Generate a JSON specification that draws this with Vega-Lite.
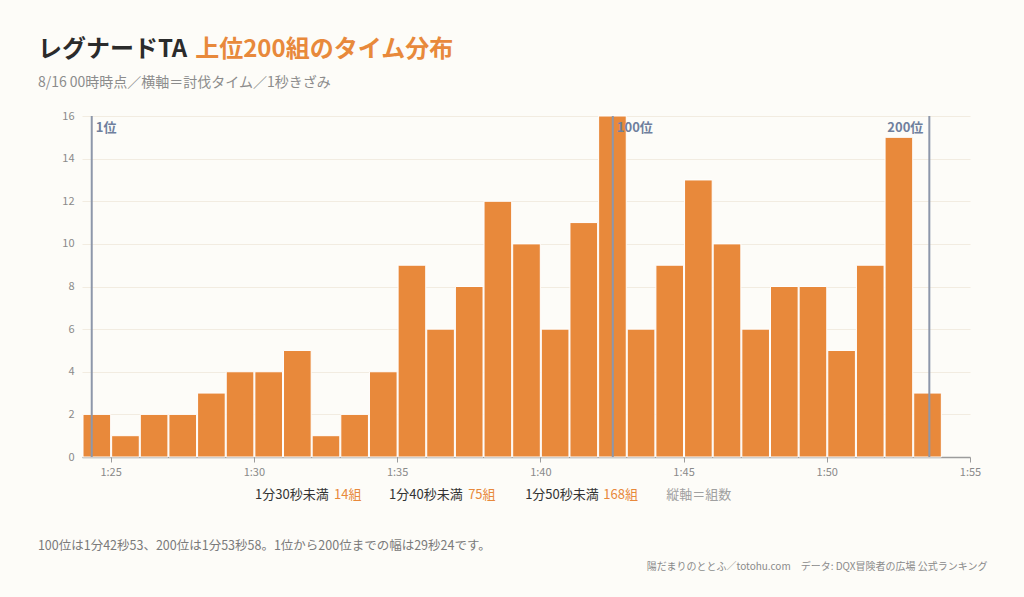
{
  "$schema": "https://vega.github.io/schema/vega-lite/v6.json",
  "width": 888,
  "height": 341,
  "autosize": {"type": "none"},
  "padding": {"left": 82, "top": 116, "right": 54, "bottom": 140},
  "background": "#fdfcf8",
  "config": {
    "view": {"stroke": null},
    "font": "Noto Sans CJK JP",
    "text": {"font": "Noto Sans CJK JP", "baseline": "middle", "align": "left"}
  },
  "layer": [
    {
      "data": {
        "values": [
          {"start": 84, "end": 85, "count": 2},
          {"start": 85, "end": 86, "count": 1},
          {"start": 86, "end": 87, "count": 2},
          {"start": 87, "end": 88, "count": 2},
          {"start": 88, "end": 89, "count": 3},
          {"start": 89, "end": 90, "count": 4},
          {"start": 90, "end": 91, "count": 4},
          {"start": 91, "end": 92, "count": 5},
          {"start": 92, "end": 93, "count": 1},
          {"start": 93, "end": 94, "count": 2},
          {"start": 94, "end": 95, "count": 4},
          {"start": 95, "end": 96, "count": 9},
          {"start": 96, "end": 97, "count": 6},
          {"start": 97, "end": 98, "count": 8},
          {"start": 98, "end": 99, "count": 12},
          {"start": 99, "end": 100, "count": 10},
          {"start": 100, "end": 101, "count": 6},
          {"start": 101, "end": 102, "count": 11},
          {"start": 102, "end": 103, "count": 16},
          {"start": 103, "end": 104, "count": 6},
          {"start": 104, "end": 105, "count": 9},
          {"start": 105, "end": 106, "count": 13},
          {"start": 106, "end": 107, "count": 10},
          {"start": 107, "end": 108, "count": 6},
          {"start": 108, "end": 109, "count": 8},
          {"start": 109, "end": 110, "count": 8},
          {"start": 110, "end": 111, "count": 5},
          {"start": 111, "end": 112, "count": 9},
          {"start": 112, "end": 113, "count": 15},
          {"start": 113, "end": 114, "count": 3}
        ]
      },
      "mark": {"type": "bar", "fill": "#e8893b", "stroke": "#ffffff", "strokeWidth": 1},
      "encoding": {
        "x": {
          "field": "start",
          "type": "quantitative",
          "bin": {"binned": true, "step": 1},
          "scale": {"domain": [84, 115]},
          "axis": {
            "title": null,
            "values": [85, 90, 95, 100, 105, 110, 115],
            "labelExpr": "floor(datum.value / 60) + ':' + (datum.value % 60 < 10 ? '0' : '') + (datum.value % 60)",
            "labelFlush": false,
            "grid": false,
            "domainColor": "#9c9c9c",
            "domainWidth": 1.5,
            "tickColor": "#9c9c9c",
            "tickSize": 5,
            "labelColor": "#8a8a8a",
            "labelFontSize": 11,
            "labelPadding": 4
          }
        },
        "x2": {"field": "end"},
        "y": {
          "field": "count",
          "type": "quantitative",
          "scale": {"domain": [0, 16]},
          "axis": {
            "title": null,
            "values": [0, 2, 4, 6, 8, 10, 12, 14, 16],
            "grid": true,
            "gridColor": "#f2ece1",
            "domain": false,
            "ticks": false,
            "labelColor": "#8a8a8a",
            "labelFontSize": 11,
            "labelPadding": 8
          }
        }
      }
    },
    {
      "data": {
        "name": "ranks",
        "values": [
          {"rank": "1位", "time": 84.34},
          {"rank": "100位", "time": 102.53},
          {"rank": "200位", "time": 113.58}
        ]
      },
      "layer": [
        {
          "mark": {"type": "rule", "color": "#8d97aa", "strokeWidth": 2},
          "encoding": {
            "x": {"field": "time", "type": "quantitative", "scale": {"domain": [84, 115]}}
          }
        },
        {
          "transform": [{"filter": "datum.rank != '200位'"}],
          "mark": {"type": "text", "align": "left", "dx": 4, "fontSize": 13, "fontWeight": "bold", "color": "#6f7f9d"},
          "encoding": {
            "x": {"field": "time", "type": "quantitative", "scale": {"domain": [84, 115]}},
            "y": {"datum": 15.44, "scale": {"domain": [0, 16]}},
            "text": {"field": "rank"}
          }
        },
        {
          "transform": [{"filter": "datum.rank == '200位'"}],
          "mark": {"type": "text", "align": "right", "dx": -6, "fontSize": 13, "fontWeight": "bold", "color": "#6f7f9d"},
          "encoding": {
            "x": {"field": "time", "type": "quantitative", "scale": {"domain": [84, 115]}},
            "y": {"datum": 15.44, "scale": {"domain": [0, 16]}},
            "text": {"field": "rank"}
          }
        }
      ]
    },
    {
      "data": {"values": [{"label": "レグナードTA"}]},
      "mark": {"type": "text", "fontSize": 24, "fontWeight": "bold", "color": "#2b2b2b"},
      "encoding": {
        "x": {"datum": 82.46, "scale": {"domain": [84, 115]}},
        "y": {"datum": 19.12, "scale": {"domain": [0, 16]}},
        "text": {"field": "label"}
      }
    },
    {
      "data": {"values": [{"label": "上位200組のタイム分布"}]},
      "mark": {"type": "text", "fontSize": 24, "fontWeight": "bold", "color": "#e8893b"},
      "encoding": {
        "x": {"datum": 87.95, "scale": {"domain": [84, 115]}},
        "y": {"datum": 19.12, "scale": {"domain": [0, 16]}},
        "text": {"field": "label"}
      }
    },
    {
      "data": {"values": [{"label": "8/16 00時時点／横軸＝討伐タイム／1秒きざみ"}]},
      "mark": {"type": "text", "fontSize": 14, "color": "#8c8c8c"},
      "encoding": {
        "x": {"datum": 82.46, "scale": {"domain": [84, 115]}},
        "y": {"datum": 17.55, "scale": {"domain": [0, 16]}},
        "text": {"field": "label"}
      }
    },
    {
      "data": {"values": [{"label": "1分30秒未満"}]},
      "mark": {"type": "text", "fontSize": 13, "color": "#333333"},
      "encoding": {
        "x": {"datum": 90.04, "scale": {"domain": [84, 115]}},
        "y": {"datum": -1.78, "scale": {"domain": [0, 16]}},
        "text": {"field": "label"}
      }
    },
    {
      "data": {"values": [{"label": "14組"}]},
      "mark": {"type": "text", "fontSize": 13, "color": "#e8893b"},
      "encoding": {
        "x": {"datum": 92.8, "scale": {"domain": [84, 115]}},
        "y": {"datum": -1.78, "scale": {"domain": [0, 16]}},
        "text": {"field": "label"}
      }
    },
    {
      "data": {"values": [{"label": "1分40秒未満"}]},
      "mark": {"type": "text", "fontSize": 13, "color": "#333333"},
      "encoding": {
        "x": {"datum": 94.72, "scale": {"domain": [84, 115]}},
        "y": {"datum": -1.78, "scale": {"domain": [0, 16]}},
        "text": {"field": "label"}
      }
    },
    {
      "data": {"values": [{"label": "75組"}]},
      "mark": {"type": "text", "fontSize": 13, "color": "#e8893b"},
      "encoding": {
        "x": {"datum": 97.48, "scale": {"domain": [84, 115]}},
        "y": {"datum": -1.78, "scale": {"domain": [0, 16]}},
        "text": {"field": "label"}
      }
    },
    {
      "data": {"values": [{"label": "1分50秒未満"}]},
      "mark": {"type": "text", "fontSize": 13, "color": "#333333"},
      "encoding": {
        "x": {"datum": 99.47, "scale": {"domain": [84, 115]}},
        "y": {"datum": -1.78, "scale": {"domain": [0, 16]}},
        "text": {"field": "label"}
      }
    },
    {
      "data": {"values": [{"label": "168組"}]},
      "mark": {"type": "text", "fontSize": 13, "color": "#e8893b"},
      "encoding": {
        "x": {"datum": 102.2, "scale": {"domain": [84, 115]}},
        "y": {"datum": -1.78, "scale": {"domain": [0, 16]}},
        "text": {"field": "label"}
      }
    },
    {
      "data": {"values": [{"label": "縦軸＝組数"}]},
      "mark": {"type": "text", "fontSize": 13, "color": "#a0a0a0"},
      "encoding": {
        "x": {"datum": 104.4, "scale": {"domain": [84, 115]}},
        "y": {"datum": -1.78, "scale": {"domain": [0, 16]}},
        "text": {"field": "label"}
      }
    },
    {
      "data": {"values": [{"label": "100位は1分42秒53、200位は1分53秒58。1位から200位までの幅は29秒24です。"}]},
      "mark": {"type": "text", "fontSize": 12.5, "color": "#7a7a7a"},
      "encoding": {
        "x": {"datum": 82.46, "scale": {"domain": [84, 115]}},
        "y": {"datum": -4.18, "scale": {"domain": [0, 16]}},
        "text": {"field": "label"}
      }
    },
    {
      "data": {"values": [{"label": "陽だまりのととふ／totohu.com　データ: DQX冒険者の広場 公式ランキング"}]},
      "mark": {"type": "text", "align": "right", "fontSize": 10, "color": "#8a8a8a"},
      "encoding": {
        "x": {"datum": 115.61, "scale": {"domain": [84, 115]}},
        "y": {"datum": -5.16, "scale": {"domain": [0, 16]}},
        "text": {"field": "label"}
      }
    }
  ]
}
